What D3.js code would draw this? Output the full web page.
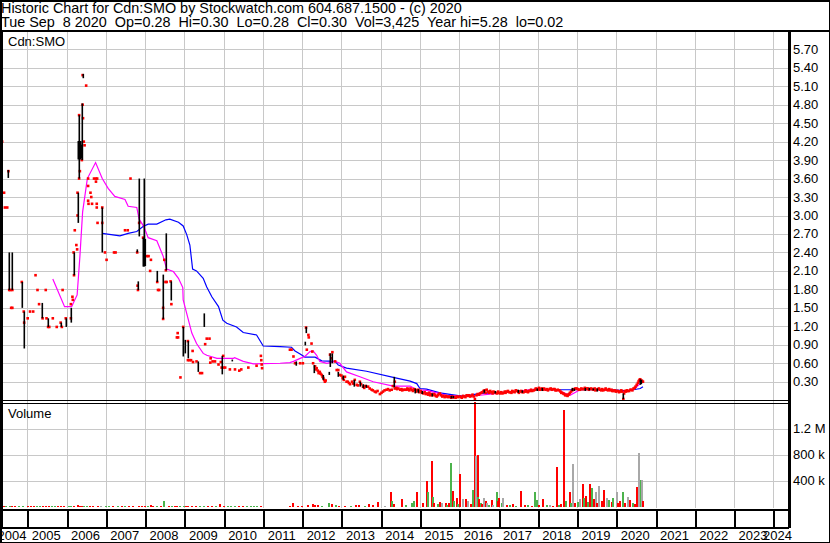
<!DOCTYPE html>
<html><head><meta charset="utf-8">
<script src="https://cdn.jsdelivr.net/npm/d3@7"></script>
<style>
html,body{margin:0;padding:0;background:#fff;}
svg{display:block;font-family:"Liberation Sans",Arial,sans-serif;}
text{white-space:pre;}
</style></head>
<body>
<svg id="c" width="830" height="543"></svg>
<script>
// ---------- DATA ----------
const titleLine1 = "Historic Chart for Cdn:SMO by Stockwatch.com 604.687.1500 - (c) 2020";
const titleLine2 = "Tue Sep  8 2020  Op=0.28  Hi=0.30  Lo=0.28  Cl=0.30  Vol=3,425  Year hi=5.28  lo=0.02";
const symbolLabel = "Cdn:SMO";
const years = d3.range(2004, 2025);
const priceTicks = [0.30,0.60,0.90,1.20,1.50,1.80,2.10,2.40,2.70,3.00,3.30,3.60,3.90,4.20,4.50,4.80,5.10,5.40,5.70];
const volTicks = [400000, 800000, 1200000];
const volTickLabels = ["400 k", "800 k", "1.2 M"];

// high-low ranges (decimal year, high, low)
const rangeT  = [2004.52,2004.54,2004.62,2004.86,2004.92,2005.38,2005.53,2005.86,2005.98,2006.11,2006.18,2006.28,2006.32,2006.29,2006.31,2006.33,2006.35,2006.37,2006.39,2006.40,2006.41,2006.91,2007.80,2007.81,2007.85,2007.98,2007.96,2007.97,2008.00,2008.31,2008.46,2008.53,2008.65,2008.97,2009.02,2009.09,2009.36,2009.51,2009.95,2010.22,2011.84,2012.07,2012.09,2012.31,2012.52,2012.69,2012.71,2012.75,2013.32,2013.47,2014.34,2014.88,2015.30,2016.62,2017.50,2018.10,2019.20,2019.50,2020.18,2020.60,2020.62,2020.64,
  2014.95,2015.05,2015.80,2015.85,2016.90,2017.60,2017.98,2018.88,2018.92,2019.30,2019.40,2012.92,2013.05,2013.55,2013.62];
const rangeHi = [3.74,2.40,2.40,1.92,1.44,1.58,1.33,1.26,1.33,1.50,2.40,3.37,4.63,4.21,4.20,4.18,4.21,4.15,4.21,4.82,5.30,3.13,2.45,1.93,3.60,3.60,2.64,2.60,2.62,2.10,2.04,2.71,1.93,1.19,0.98,0.96,0.63,1.41,0.72,0.66,0.63,0.95,1.19,0.57,0.41,0.46,0.76,0.76,0.33,0.30,0.38,0.19,0.11,0.17,0.17,0.20,0.20,0.19,0.11,0.34,0.33,0.32,
  0.18,0.15,0.07,0.07,0.15,0.16,0.19,0.20,0.19,0.20,0.19,0.46,0.40,0.26,0.25];
const rangeLo = [3.61,1.79,1.79,1.50,0.84,1.33,1.19,1.19,1.19,1.26,2.03,2.88,3.60,3.91,3.92,3.95,3.91,3.93,3.91,3.90,5.23,2.40,2.40,1.79,2.66,2.17,2.17,2.20,2.18,1.92,1.32,2.11,1.62,0.71,0.76,0.68,0.46,1.19,0.42,0.63,0.56,0.89,1.09,0.44,0.33,0.41,0.54,0.60,0.22,0.22,0.21,0.11,0.06,0.12,0.12,0.15,0.15,0.14,0.02,0.25,0.26,0.27,
  0.12,0.10,0.03,0.03,0.11,0.12,0.15,0.15,0.15,0.16,0.16,0.38,0.33,0.20,0.20];

// closing prices (decimal year, close)
const closeT = [2004.36,2004.41,2004.43,2004.49,2004.52,2004.54,2004.57,2004.62,2004.59,2004.62,2004.86,2004.92,2004.91,2005.01,2005.07,2005.15,2005.21,2005.26,2005.30,2005.39,2005.47,2005.49,2005.53,2005.56,2005.65,2005.75,2005.85,2005.88,2005.90,2005.98,2006.11,2006.11,2006.16,2006.15,2006.18,2006.19,2006.21,2006.25,2006.27,2006.28,2006.28,2006.32,2006.32,2006.34,2006.39,2006.41,2006.42,2006.41,2006.44,2006.46,2006.50,2006.55,2006.55,2006.61,2006.63,2006.55,2006.56,2006.65,2006.70,2006.75,2006.75,2006.78,2006.77,2006.77,2006.79,2006.91,2006.91,2006.98,2007.02,2007.21,2007.25,2007.49,2007.56,2007.63,2007.85,2007.95,2007.80,2007.81,2007.82,2008.05,2008.09,2008.15,2008.13,2008.31,2008.33,2008.36,2008.46,2008.46,2008.49,2008.53,2008.52,2008.55,2008.65,2008.67,2008.97,2008.81,2008.84,2008.83,2008.90,2009.09,2009.09,2009.13,2009.17,2009.21,2009.22,2009.31,2009.40,2009.45,2009.53,2009.57,2009.64,2009.66,2009.67,2009.72,2009.78,2009.87,2009.93,2009.95,2009.99,2010.00,2010.04,2010.16,2010.29,2010.40,2010.45,2010.63,2010.84,2010.95,2010.96,2010.97,2010.98,2011.69,2011.73,2011.78,2011.82,2011.95,2012.02,2012.10,2012.12,2012.16,2012.17,2012.24,2012.26,2012.33,2012.37,2012.45,2012.50,2012.54,2012.58,2012.71,2012.75,2012.77,2012.84,2012.88,2012.92,2012.96,2013.00,2013.09,2013.13,2013.16,2013.22,2013.27,2013.34,2013.39,2013.47,2013.55,2013.68,2013.77,2013.85,2013.98,2014.06,2014.15,2014.23,2014.36,2014.36,2014.45,2014.50,2014.58,2014.66,2014.88,2014.96,2015.00,2015.09,2015.15,2015.26,2015.35,2015.43,2015.51,2015.68,2015.77,2015.85,2016.02,2016.10,2016.19,2016.28,2016.40,2016.53,2016.62,2016.70,2016.87,2016.96,2017.04,2017.13,2017.21,2017.30,2017.38,2017.47,2017.55,2017.64,2017.72,2017.80,2017.90,2017.98,2018.05,2018.10,2018.20,2018.30,2018.40,2018.48,2018.55,2018.62,2018.65,2018.70,2018.74,2018.78,2018.82,2018.91,2018.96,2019.02,2019.08,2019.17,2019.25,2019.33,2019.42,2019.50,2019.59,2019.67,2019.76,2019.85,2019.93,2020.01,2020.10,2020.18,2020.22,2020.30,2020.36,2020.44,2020.52,2020.59,2020.64,2020.68,
  2012.28,2012.35,2012.40,2012.42,2012.47,2012.52,2012.56,2012.60,
  2013.03,2013.06,2013.19,2013.30,2013.42,2013.50,2013.58,2013.61,2013.72,2013.80,2013.88,2013.92,2014.02,2014.10,2014.19,2014.28,2014.31,2014.40,2014.42,2014.53,2014.55,2014.62,2014.68,
  2014.70,2014.73,2014.76,2014.79,2014.82,2014.85,2014.90,2014.93,2014.98,2015.02,2015.05,2015.12,2015.18,2015.21,2015.24,2015.29,2015.32,2015.38,2015.40,2015.46,2015.48,2015.54,2015.57,2015.60,2015.63,2015.66,2015.71,2015.74,2015.80,2015.82,2015.88,2015.91,2015.94,2015.97,2016.05,2016.07,2016.13,2016.16,2016.22,2016.25,2016.31,2016.34,2016.37,2016.44,2016.47,2016.50,2016.56,2016.59,2016.65,2016.67,2016.73,2016.76,2016.79,2016.82,2016.85,2016.90,2016.93,2016.99,2017.01,2017.07,2017.10,2017.16,2017.18,2017.24,2017.27,2017.33,2017.35,2017.41,2017.44,2017.50,2017.52,2017.58,2017.61,2017.67,2017.69,2017.75,2017.77,2017.83,2017.86,2017.93,2017.95,2018.01,2018.03,2018.08,2018.13,2018.16,2018.23,2018.26,2018.33,2018.36,2018.43,2018.45,2018.51,2018.58,2018.60,2018.67,2018.72,2018.76,2018.80,2018.85,2018.88,2018.93,2018.99,2019.05,2019.11,2019.14,2019.20,2019.22,2019.28,2019.30,2019.36,2019.39,2019.45,2019.47,2019.53,2019.56,2019.62,2019.64,2019.70,2019.73,2019.79,2019.82,2019.88,2019.90,2019.96,2019.99,2020.04,2020.07,2020.13,2020.15,2020.20,2020.25,2020.27,2020.33,2020.39,2020.41,2020.47,2020.49,2020.55,2020.57,2020.61,2020.66];
const closeV = [4.20,3.37,3.13,3.13,3.72,1.79,1.79,1.79,1.50,1.50,1.92,1.26,1.44,1.33,1.44,1.44,2.03,1.79,1.56,1.33,1.79,1.33,1.19,1.19,1.33,1.19,1.26,1.19,1.79,1.33,1.33,1.56,1.63,1.68,2.40,2.03,2.76,2.52,2.45,3.37,3.00,3.60,4.63,3.72,3.90,4.80,4.58,5.28,4.20,4.14,5.11,3.60,3.48,3.37,3.30,3.24,3.19,3.19,3.60,3.60,3.55,3.60,3.19,3.13,2.88,2.88,3.13,2.40,2.28,2.40,2.40,2.76,2.76,3.60,2.88,2.64,2.40,1.86,1.79,2.34,2.34,2.28,2.10,1.92,1.79,1.79,1.50,1.32,2.28,2.11,1.92,1.92,1.93,1.56,1.19,1.02,1.02,1.09,0.37,0.96,0.65,0.65,0.65,0.80,0.62,0.63,0.44,0.44,0.91,1.00,1.00,0.61,0.68,0.63,0.63,0.58,0.62,0.53,0.72,0.53,0.53,0.50,0.50,0.48,0.50,0.53,0.56,0.72,0.65,0.58,0.52,0.82,0.82,0.71,0.60,0.60,0.60,1.18,0.82,1.06,1.02,0.92,0.79,0.55,0.52,0.46,0.41,0.36,0.30,0.74,0.68,0.78,0.63,0.49,0.49,0.41,0.40,0.38,0.30,0.30,0.26,0.30,0.33,0.25,0.30,0.22,0.22,0.17,0.14,0.10,0.14,0.17,0.16,0.30,0.19,0.19,0.17,0.17,0.17,0.17,0.17,0.14,0.11,0.10,0.08,0.10,0.06,0.11,0.06,0.05,0.05,0.06,0.07,0.08,0.06,0.02,0.11,0.15,0.17,0.14,0.11,0.11,0.12,0.14,0.13,0.14,0.15,0.14,0.13,0.14,0.15,0.16,0.18,0.17,0.19,0.17,0.18,0.18,0.16,0.16,0.12,0.11,0.08,0.08,0.09,0.12,0.17,0.19,0.18,0.17,0.18,0.19,0.18,0.17,0.17,0.17,0.16,0.17,0.16,0.15,0.15,0.14,0.02,0.15,0.15,0.17,0.19,0.25,0.33,0.32,0.30,
  0.60,0.50,0.48,0.44,0.43,0.38,0.33,0.32,
  0.36,0.33,0.28,0.27,0.24,0.26,0.20,0.23,0.19,0.16,0.13,0.15,0.12,0.16,0.18,0.17,0.23,0.20,0.18,0.18,0.16,0.17,0.19,
  0.18,0.16,0.19,0.17,0.15,0.18,0.14,0.16,0.13,0.15,0.12,0.13,0.11,0.09,0.12,0.10,0.08,0.09,0.07,0.08,0.10,0.08,0.06,0.07,0.05,0.07,0.05,0.06,0.04,0.06,0.05,0.04,0.06,0.05,0.05,0.04,0.06,0.05,0.07,0.08,0.07,0.09,0.06,0.08,0.10,0.09,0.12,0.13,0.16,0.12,0.14,0.12,0.15,0.13,0.11,0.13,0.12,0.14,0.12,0.13,0.11,0.14,0.12,0.15,0.13,0.12,0.15,0.13,0.16,0.14,0.12,0.15,0.13,0.14,0.16,0.13,0.15,0.17,0.15,0.17,0.19,0.18,0.20,0.18,0.17,0.19,0.18,0.16,0.19,0.17,0.18,0.16,0.17,0.14,0.12,0.10,0.09,0.07,0.10,0.14,0.16,0.18,0.19,0.17,0.19,0.18,0.20,0.18,0.19,0.17,0.19,0.18,0.19,0.16,0.18,0.19,0.16,0.18,0.17,0.19,0.16,0.18,0.17,0.15,0.16,0.14,0.15,0.13,0.16,0.14,0.11,0.14,0.16,0.15,0.17,0.16,0.20,0.22,0.28,0.31,0.34,0.31];

// short moving average (magenta)
const maShortT = [2005.65,2005.95,2006.13,2006.27,2006.34,2006.41,2006.53,2006.74,2006.91,2007.06,2007.23,2007.49,2007.57,2007.79,2007.85,2007.97,2008.08,2008.30,2008.46,2008.55,2008.72,2008.85,2008.96,2008.97,2009.19,2009.31,2009.48,2009.57,2009.83,2010.25,2010.28,2010.50,2010.76,2011.44,2011.69,2011.78,2011.95,2012.07,2012.20,2012.28,2012.37,2012.45,2012.63,2012.84,2012.96,2013.13,2013.47,2013.81,2014.32,2014.75,2014.92,2015.17,2015.68,2016.19,2016.53,2016.96,2017.38,2017.98,2018.48,2018.82,2019.08,2019.25,2019.93,2020.18,2020.44,2020.61,2020.68];
const maShortV = [1.97,1.52,1.52,1.71,2.33,3.06,3.60,3.86,3.60,3.44,3.31,3.26,3.15,3.13,2.94,2.82,2.64,2.59,2.34,2.13,2.09,1.98,1.83,1.63,1.09,0.92,0.76,0.73,0.68,0.68,0.69,0.63,0.59,0.60,0.61,0.63,0.68,0.71,0.79,0.80,0.73,0.63,0.60,0.63,0.60,0.46,0.38,0.30,0.23,0.23,0.17,0.16,0.08,0.06,0.08,0.11,0.14,0.18,0.17,0.08,0.17,0.18,0.16,0.14,0.17,0.27,0.32];

// long moving average (blue)
const maLongT = [2006.91,2007.36,2007.57,2007.79,2007.95,2008.08,2008.30,2008.53,2008.63,2008.85,2008.97,2009.06,2009.14,2009.21,2009.31,2009.48,2009.57,2009.70,2009.87,2009.98,2010.08,2010.33,2010.50,2010.84,2011.01,2011.44,2011.73,2011.82,2011.95,2012.07,2012.33,2012.50,2012.84,2012.92,2013.13,2013.64,2014.32,2014.75,2014.92,2015.00,2015.17,2015.51,2016.02,2016.19,2016.53,2016.96,2017.38,2017.98,2018.48,2019.08,2019.93,2020.27,2020.44,2020.61,2020.68];
const maLongV = [2.71,2.67,2.71,2.74,2.82,2.86,2.86,2.93,2.94,2.89,2.83,2.69,2.52,2.13,2.10,1.98,1.84,1.68,1.52,1.30,1.25,1.19,1.10,1.06,0.88,0.87,0.86,0.80,0.75,0.70,0.70,0.64,0.63,0.57,0.52,0.47,0.37,0.31,0.27,0.19,0.18,0.12,0.07,0.07,0.11,0.12,0.14,0.17,0.17,0.17,0.17,0.15,0.17,0.19,0.22];

// volume (decimal year, shares, direction: u=up green, d=down red, n=unchanged grey)
const volT = [2004.40,2004.55,2004.70,2004.90,2005.10,2005.25,2005.40,2005.55,2005.70,2005.85,2006.05,2006.20,2006.35,2006.45,2006.60,2006.80,2007.00,2007.30,2007.60,2007.85,2008.00,2008.20,2008.30,2008.49,2008.60,2008.75,2008.90,2009.10,2009.30,2009.50,2009.70,2009.91,2010.10,2010.30,2010.50,2010.70,2010.85,2011.70,2011.78,2011.90,2012.00,2012.15,2012.28,2012.32,2012.40,2012.50,2012.69,2012.75,2012.85,2012.95,2013.10,2013.25,2013.36,2013.45,2013.60,2013.71,2013.80,2013.94,2014.10,2014.26,2014.30,2014.35,2014.55,2014.65,2014.80,2014.85,2014.93,2015.07,2015.17,2015.21,2015.30,2015.33,2015.36,2015.47,2015.51,2015.56,2015.66,2015.70,2015.74,2015.79,2015.84,2015.88,2015.94,2015.98,2016.02,2016.11,2016.17,2016.23,2016.30,2016.36,2016.39,2016.43,2016.47,2016.49,2016.51,2016.55,2016.58,2016.63,2016.68,2016.72,2016.77,2016.83,2016.87,2016.96,2016.98,2017.02,2017.08,2017.12,2017.21,2017.29,2017.38,2017.45,2017.57,2017.67,2017.76,2017.86,2017.93,2017.98,2018.02,2018.14,2018.23,2018.31,2018.40,2018.48,2018.53,2018.59,2018.68,2018.72,2018.81,2018.85,2018.91,2018.96,2019.02,2019.08,2019.15,2019.17,2019.23,2019.28,2019.33,2019.38,2019.44,2019.49,2019.52,2019.57,2019.63,2019.70,2019.76,2019.82,2019.89,2019.93,2020.01,2020.05,2020.10,2020.17,2020.22,2020.31,2020.35,2020.42,2020.47,2020.52,2020.57,2020.59,2020.62,2020.64,2020.66,2020.68,
  2004.45,2004.62,2004.78,2005.02,2005.18,2005.33,2005.47,2005.62,2005.78,2005.93,2006.12,2006.28,2006.40,2006.52,2006.68,2006.88,2007.08,2007.18,2007.42,2007.50,2007.70,2007.92,2008.08,2008.15,2008.40,2008.68,2008.82,2008.98,2009.05,2009.20,2009.40,2009.60,2009.80,2010.00,2010.20,2010.40,2010.60,2010.78,2010.95];
const volV = [15e3,10e3,12e3,8e3,10e3,12e3,10e3,15e3,8e3,10e3,12e3,15e3,20e3,10e3,12e3,10e3,8e3,10e3,12e3,15e3,20e3,15e3,20e3,90e3,15e3,10e3,12e3,15e3,10e3,12e3,10e3,50e3,12e3,10e3,8e3,10e3,15e3,10e3,60e3,15e3,20e3,25e3,50e3,35e3,30e3,20e3,60e3,40e3,30e3,20e3,15e3,20e3,35e3,25e3,15e3,50e3,30e3,75e3,15e3,225e3,90e3,40e3,120e3,30e3,60e3,90e3,225e3,60e3,400e3,235e3,700e3,150e3,60e3,50e3,80e3,60e3,60e3,30e3,60e3,670e3,245e3,90e3,140e3,40e3,500e3,115e3,130e3,90e3,40e3,260e3,1610e3,775e3,800e3,150e3,130e3,60e3,40e3,145e3,90e3,60e3,30e3,100e3,30e3,225e3,90e3,140e3,60e3,140e3,30e3,30e3,45e3,20e3,245e3,30e3,30e3,20e3,225e3,100e3,30e3,130e3,30e3,30e3,20e3,610e3,30e3,40e3,1490e3,90e3,225e3,60e3,660e3,60e3,75e3,130e3,350e3,140e3,170e3,80e3,350e3,290e3,130e3,230e3,60e3,320e3,90e3,260e3,140e3,110e3,80e3,140e3,225e3,60e3,90e3,225e3,60e3,150e3,100e3,60e3,40e3,310e3,450e3,825e3,250e3,420e3,410e3,90e3,
  12e3,18e3,10e3,14e3,9e3,16e3,12e3,10e3,14e3,11e3,18e3,25e3,20e3,12e3,15e3,10e3,8e3,12e3,9e3,14e3,11e3,20e3,18e3,25e3,15e3,12e3,10e3,16e3,14e3,12e3,18e3,10e3,14e3,12e3,16e3,10e3,12e3,14e3,18e3];
const volDir = ["d","u","d","u","d","u","d","d","u","d","u","d","d","u","d","d","u","u","d","d","d","d","u","u","d","d","u","d","d","u","d","d","u","u","d","u","u","d","d","d","d","d","d","d","d","u","u","d","u","d","d","u","d","d","u","d","d","d","n","d","u","d","d","u","u","u","d","d","d","u","d","u","d","u","d","n","d","u","d","u","d","u","d","u","d","n","d","n","d","u","d","n","d","u","d","u","d","n","d","n","u","d","n","u","d","d","u","n","d","u","d","u","d","d","u","d","u","u","d","d","u","n","d","d","u","d","d","u","d","u","n","d","u","n","d","u","d","u","d","u","d","n","d","n","d","d","n","u","d","u","n","d","d","u","d","n","d","u","d","d","u","n","d","u","n","d",
  "u","d","u","d","d","u","d","u","d","d","u","d","d","u","d","n","u","d","d","u","d","d","u","d","d","u","d","u","d","d","u","d","u","d","u","d","u","u","d"];

// ---------- DRAW ----------
const svg = d3.select("#c");
const toDate = t => { const y = Math.floor(t); const a = new Date(y,0,1), b = new Date(y+1,0,1); return new Date(+a + (t-y)*(b-a)); };

const plotL = 2, plotR = 789;
const x = d3.scaleTime().domain([new Date(2005,0,1), new Date(2024,0,1)]).range([27.3, 773.3]);
const y = d3.scaleLinear().domain([0, 6]).range([400.2, 30.8]);
const yv = d3.scaleLinear().domain([0, 1.6e6]).range([507, 402.5]);

const GRID = "#c8c8c8";
const grid = svg.append("g").attr("shape-rendering","crispEdges");
grid.selectAll(".hg").data(priceTicks).join("line")
  .attr("x1", plotL).attr("x2", plotR).attr("y1", d=>Math.round(y(d))+0.5).attr("y2", d=>Math.round(y(d))+0.5)
  .attr("stroke", GRID);
grid.selectAll(".vg").data(volTicks).join("line")
  .attr("x1", plotL).attr("x2", plotR).attr("y1", d=>Math.round(yv(d))+0.5).attr("y2", d=>Math.round(yv(d))+0.5)
  .attr("stroke", GRID);
const yearTicks = years.slice(1);
grid.selectAll(".yg").data(yearTicks).join("line")
  .attr("x1", d=>Math.round(x(new Date(d,0,1)))+0.5).attr("x2", d=>Math.round(x(new Date(d,0,1)))+0.5)
  .attr("y1", 31).attr("y2", 508).attr("stroke", GRID);

svg.append("clipPath").attr("id","pc").append("rect").attr("x",plotL).attr("y",31).attr("width",plotR-plotL).attr("height",370);

const lineGen = d3.line().x(d=>x(toDate(d[0]))).y(d=>y(d[1]));
const plot = svg.append("g").attr("clip-path","url(#pc)");
plot.append("path").datum(maLongT.map((t,i)=>[t,maLongV[i]])).attr("d", lineGen)
  .attr("fill","none").attr("stroke","#0000ff").attr("stroke-width",1.2);
plot.append("path").datum(maShortT.map((t,i)=>[t,maShortV[i]])).attr("d", lineGen)
  .attr("fill","none").attr("stroke","#ff00ff").attr("stroke-width",1.2);

plot.selectAll(".cl").data(closeT.map((t,i)=>({t,v:closeV[i]}))).join("rect")
  .attr("x", d=>x(toDate(d.t))-1.3).attr("y", d=>y(d.v)-1.3).attr("width",2.6).attr("height",2.6)
  .attr("fill","#ff0000");
plot.selectAll(".hl").data(rangeT.map((t,i)=>({t,h:rangeHi[i],l:rangeLo[i]}))).join("rect")
  .attr("x", d=>Math.round(x(toDate(d.t)))-0.5).attr("width",1.6)
  .attr("y", d=>y(d.h)).attr("height", d=>Math.max(1, y(d.l)-y(d.h)))
  .attr("fill","#000");

const volColor = {u:"#4cb34c", d:"#ff0000", n:"#a8a8a8"};
svg.append("g").selectAll("rect").data(volT.map((t,i)=>({t,v:volV[i],c:volDir[i]}))).join("rect")
  .attr("x", d=>x(toDate(d.t))-1).attr("width",2)
  .attr("y", d=>yv(d.v)).attr("height", d=>Math.max(1, yv(0)-yv(d.v)))
  .attr("fill", d=>volColor[d.c]).attr("shape-rendering","crispEdges");

const fr = svg.append("g").attr("stroke","#000").attr("shape-rendering","crispEdges");
fr.append("rect").attr("x",0.5).attr("y",0.5).attr("width",829).attr("height",542).attr("fill","none").attr("stroke-width",2);
fr.append("line").attr("x1",0).attr("x2",830).attr("y1",30.5).attr("y2",30.5).attr("stroke-width",2);
fr.append("line").attr("x1",1).attr("x2",1).attr("y1",30).attr("y2",528).attr("stroke-width",3);
fr.append("line").attr("x1",789.5).attr("x2",789.5).attr("y1",30).attr("y2",528).attr("stroke-width",3);
fr.append("line").attr("x1",0).attr("x2",789).attr("y1",400.5).attr("y2",400.5).attr("stroke-width",1);
fr.append("line").attr("x1",0).attr("x2",789).attr("y1",403.5).attr("y2",403.5).attr("stroke-width",1);
fr.append("line").attr("x1",0).attr("x2",789).attr("y1",509.5).attr("y2",509.5).attr("stroke-width",2);
fr.append("line").attr("x1",0).attr("x2",789).attr("y1",527.5).attr("y2",527.5).attr("stroke-width",2);
fr.selectAll(".tk").data(yearTicks).join("line")
  .attr("x1", d=>Math.round(x(new Date(d,0,1)))+0.5).attr("x2", d=>Math.round(x(new Date(d,0,1)))+0.5)
  .attr("y1",510).attr("y2",527).attr("stroke-width",2);

const T = svg.append("g").attr("font-size",13).attr("fill","#000");
T.append("text").attr("x",1).attr("y",12.5).attr("font-size",14.4).text(titleLine1);
T.append("text").attr("x",1).attr("y",26.5).attr("font-size",14.4).text(titleLine2);
T.append("text").attr("x",8).attr("y",46).text(symbolLabel);
T.append("text").attr("x",8).attr("y",418).text("Volume");
T.selectAll(".pl").data(priceTicks).join("text")
  .attr("x",793).attr("y", d=>y(d)+4.5).text(d=>d.toFixed(2));
T.selectAll(".vl").data(volTicks).join("text")
  .attr("x",793).attr("y", (d)=>yv(d)+4.5).text((d,i)=>volTickLabels[i]);
T.selectAll(".yl").data(years).join("text")
  .attr("x", d=>{ const c = x(new Date(d,0,1)) + 19; return d===2004 ? 12 : (d===2024 ? 777.5 : c); })
  .attr("y", 540).attr("text-anchor","middle").text(d=>d);
</script>
</body></html>
